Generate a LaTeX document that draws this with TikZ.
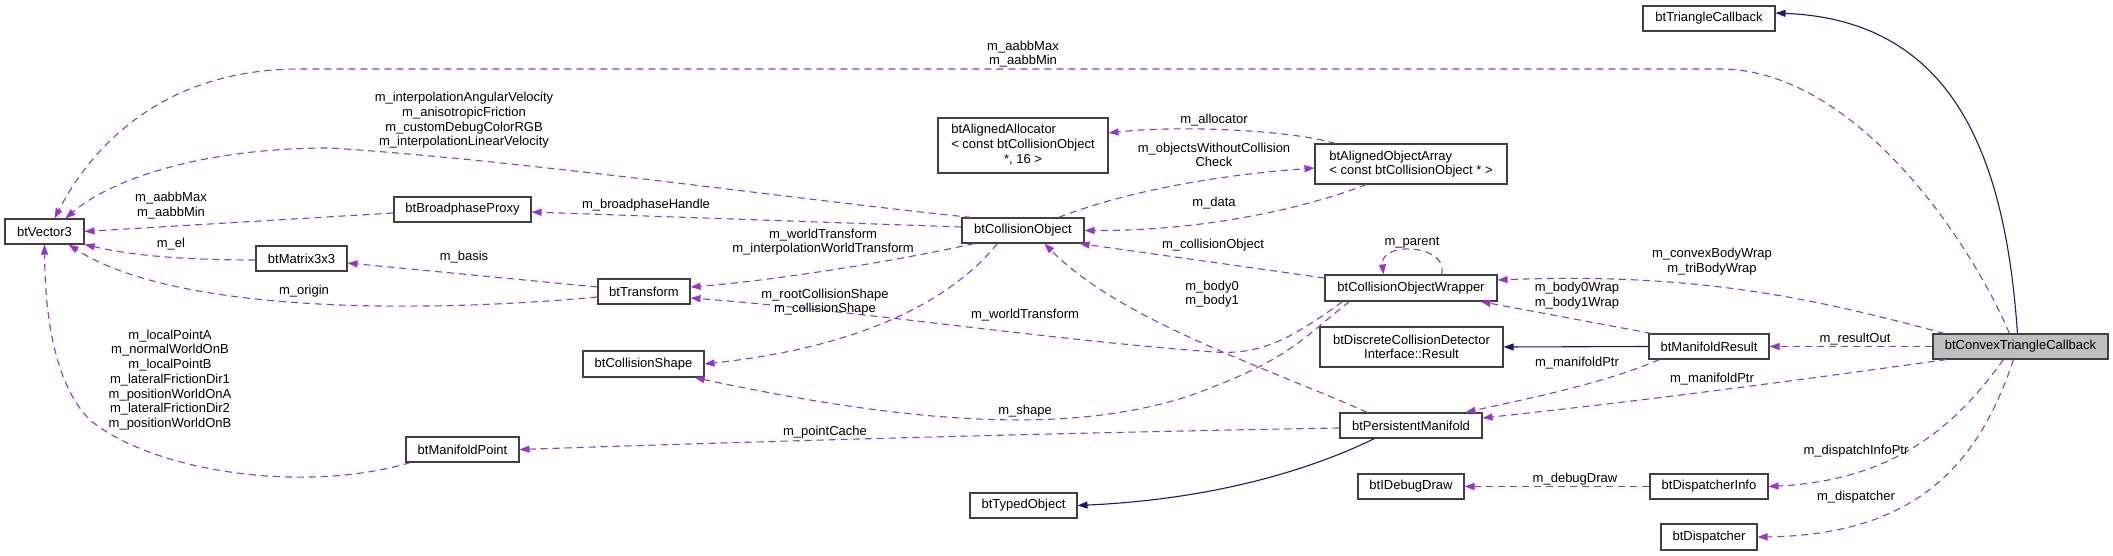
\documentclass[tikz,border=0pt]{standalone}
\usepackage{fontspec}
\setmainfont{Liberation Sans}
\usetikzlibrary{arrows.meta}
\definecolor{edgepurple}{HTML}{9A32CD}
\definecolor{inhblue}{HTML}{191970}
\definecolor{boxline}{HTML}{404040}
\definecolor{mainfill}{HTML}{BFBFBF}
\begin{document}
\begin{tikzpicture}[x=1pt,y=-1pt,
  font=\fontsize{13}{14.7}\selectfont,
  cls/.style={draw=boxline, line width=1.1pt, fill=white, inner sep=0pt, align=center},
  lbl/.style={inner sep=0pt, align=center},
  member/.style={draw=edgepurple, line width=1.1pt, dash pattern=on 7pt off 5pt,
    -{Triangle[length=10pt,width=7pt]}},
  inherit/.style={draw=inhblue, line width=1.1pt, -{Triangle[length=10pt,width=7pt]}}]
\useasboundingbox (0,0) rectangle (2113,556);

% ---------- classes ----------
\node[cls, minimum width=79pt, minimum height=25pt] (vec) at (44.5,231.5) {btVector3};
\node[cls, minimum width=137pt, minimum height=25pt] (bpp) at (462.5,209.5) {btBroadphaseProxy};
\node[cls, minimum width=91pt, minimum height=25pt] (m33) at (301.5,258.5) {btMatrix3x3};
\node[cls, minimum width=92pt, minimum height=25pt] (tr) at (644,291.5) {btTransform};
\node[cls, minimum width=121pt, minimum height=26pt] (cs) at (643.5,364) {btCollisionShape};
\node[cls, minimum width=113pt, minimum height=25pt] (mp) at (462.5,449.5) {btManifoldPoint};
\node[cls, minimum width=170pt, minimum height=55pt] (alloc) at (1023,145.5)
  {\begin{tabular}{@{}l@{}}btAlignedAllocator\\< const btCollisionObject\\\multicolumn{1}{@{}c@{}}{*, 16 >}\end{tabular}};
\node[cls, minimum width=192pt, minimum height=40pt, align=left] (aoa) at (1411,164)
  {btAlignedObjectArray\\< const btCollisionObject * >};
\node[cls, minimum width=122pt, minimum height=25pt] (co) at (1023,230.5) {btCollisionObject};
\node[cls, minimum width=172pt, minimum height=26pt] (cow) at (1411,288) {btCollisionObjectWrapper};
\node[cls, minimum width=183pt, minimum height=40pt] (dcd) at (1411.5,347)
  {btDiscreteCollisionDetector\\Interface::Result};
\node[cls, minimum width=120pt, minimum height=25pt] (mr) at (1709,346.5) {btManifoldResult};
\node[cls, fill=mainfill, minimum width=175pt, minimum height=25pt] (ctc) at (2020.5,346.5) {btConvexTriangleCallback};
\node[cls, minimum width=132pt, minimum height=25pt] (tc) at (1709,18.5) {btTriangleCallback};
\node[cls, minimum width=142pt, minimum height=25pt] (pm) at (1411,425.5) {btPersistentManifold};
\node[cls, minimum width=107pt, minimum height=25pt] (to) at (1023.5,505.5) {btTypedObject};
\node[cls, minimum width=106pt, minimum height=25pt] (dd) at (1411,486.5) {btIDebugDraw};
\node[cls, minimum width=118pt, minimum height=25pt] (di) at (1709,486.5) {btDispatcherInfo};
\node[cls, minimum width=96pt, minimum height=26pt] (disp) at (1709,537) {btDispatcher};

% ---------- member connectors ----------
\draw[member] ([xshift=77pt]ctc.north west) .. controls (1965,230) and (1850,69) .. (1720,69)
  -- (300,69) .. controls (160,69) and (90,150) .. ([xshift=50pt]vec.north west);
\draw[member] ([xshift=10pt]co.north west) .. controls (800,200) and (520,160) .. (330,148)
  .. controls (200,148) and (110,180) .. ([xshift=61pt]vec.north west);
\draw[member] ([yshift=-3.5pt]bpp.west) -- (vec.east);
\draw[member] ([yshift=-1.5pt]m33.west) .. controls (180,260) and (130,255) .. (vec.south east);
\draw[member] ([yshift=-5.5pt]tr.west) .. controls (400,315) and (170,310) .. ([xshift=-16pt]vec.south east);
\draw[member] ([xshift=5pt]mp.south west) .. controls (300,495) and (150,470) .. (90,420)
  .. controls (50,380) and (45,300) .. ([xshift=40pt]vec.south west);
\draw[member] ([yshift=4.5pt]tr.west) -- ([yshift=-4.5pt]m33.east);
\draw[member] ([yshift=3.5pt]co.west) -- ([yshift=-2.5pt]bpp.east);
\draw[member] ([xshift=13pt]co.south west) .. controls (900,260) and (780,280) .. ([yshift=4.5pt]tr.east);
\draw[member] ([xshift=36pt]co.south west) .. controls (960,290) and (880,345) .. (cs.east);
\draw[member] ([xshift=18pt]cow.south west) .. controls (1290,340) and (1260,355) .. (1214,352)
  .. controls (1050,340) and (850,310) .. ([yshift=-6.5pt]tr.east);
\draw[member] ([xshift=25pt]cow.south west) .. controls (1300,340) and (1290,360) .. (1186,397)
  .. controls (1080,430) and (940,430) .. ([xshift=-10pt]cs.south east);
\draw[member] ([yshift=-2.5pt]pm.west) .. controls (1100,432) and (800,440) .. (mp.east);
\draw[member] ([xshift=28pt]pm.north west) .. controls (1260,365) and (1120,320) .. ([xshift=83pt]co.south west);
\draw[member] ([yshift=10pt]cow.west) -- ([xshift=-5pt]co.south east);
\draw[member] ([xshift=117pt]cow.north west) .. controls (1450,245) and (1380,240) .. ([xshift=59pt]cow.north west);
\draw[member] ([xshift=97pt]co.north west) .. controls (1130,190) and (1220,175) .. ([yshift=-4pt]aoa.west);
\draw[member] ([xshift=52pt]aoa.south west) .. controls (1300,210) and (1200,231) .. (co.east);
\draw[member] ([xshift=21pt]aoa.north west) .. controls (1290,130) and (1180,125) .. ([yshift=12.5pt]alloc.east);
\draw[member] ([xshift=12pt]ctc.north west) .. controls (1820,300) and (1700,272) .. ([yshift=8pt]cow.east);
\draw[member] ([xshift=3pt]mr.north west) -- ([xshift=-17pt]cow.south east);
\draw[member] ([xshift=11pt]mr.south west) .. controls (1600,385) and (1520,400) .. ([xshift=-17pt]pm.north east);
\draw[member] (ctc.west) -- (mr.east);
\draw[member] ([xshift=14pt]ctc.south west) .. controls (1800,380) and (1650,400) .. ([yshift=7.5pt]pm.east);
\draw[member] ([xshift=71pt]ctc.south west) .. controls (1960,420) and (1900,480) .. (di.east);
\draw[member] ([xshift=81pt]ctc.south west) .. controls (1980,460) and (1920,535) .. (disp.east);
\draw[member] (di.west) -- (dd.east);

% ---------- inheritance ----------
\draw[inherit] ([xshift=85pt]ctc.north west) .. controls (2005,150) and (1950,20) .. ([yshift=5.5pt]tc.east);
\draw[inherit] (mr.west) -- (dcd.east);
\draw[inherit] ([xshift=35pt]pm.south west) .. controls (1300,475) and (1200,500) .. (to.east);

% ---------- labels ----------
\node[lbl] (lA) at (1023,54) {m\_aabbMax\\m\_aabbMin};
\node[lbl] (lB) at (464,120.5) {m\_interpolationAngularVelocity\\m\_anisotropicFriction\\m\_customDebugColorRGB\\m\_interpolationLinearVelocity};
\node[lbl] (lC) at (171,205.5) {m\_aabbMax\\m\_aabbMin};
\node[lbl] (lD) at (171,244) {m\_el};
\node[lbl] (lE) at (464,257) {m\_basis};
\node[lbl] (lF) at (304,291) {m\_origin};
\node[lbl] (lG) at (170,380) {m\_localPointA\\m\_normalWorldOnB\\m\_localPointB\\m\_lateralFrictionDir1\\m\_positionWorldOnA\\m\_lateralFrictionDir2\\m\_positionWorldOnB};
\node[lbl] (lH) at (646,205) {m\_broadphaseHandle};
\node[lbl] (lI) at (823,242) {m\_worldTransform\\m\_interpolationWorldTransform};
\node[lbl] (lJ) at (825,302) {m\_rootCollisionShape\\m\_collisionShape};
\node[lbl] (lK) at (1214,120) {m\_allocator};
\node[lbl] (lL) at (1214,155) {m\_objectsWithoutCollision\\Check};
\node[lbl] (lM) at (1214,203) {m\_data};
\node[lbl] (lN) at (1213,245) {m\_collisionObject};
\node[lbl] (lO) at (1412,243) {m\_parent};
\node[lbl] (lP) at (1212,294) {m\_body0\\m\_body1};
\node[lbl] (lQ) at (1025,315) {m\_worldTransform};
\node[lbl] (lR) at (1025,411) {m\_shape};
\node[lbl] (lS) at (825,432) {m\_pointCache};
\node[lbl] (lT) at (1712,261.5) {m\_convexBodyWrap\\m\_triBodyWrap};
\node[lbl] (lU) at (1577,295.5) {m\_body0Wrap\\m\_body1Wrap};
\node[lbl] (lV) at (1577,363) {m\_manifoldPtr};
\node[lbl] (lW) at (1712,379) {m\_manifoldPtr};
\node[lbl] (lX) at (1855,339) {m\_resultOut};
\node[lbl] (lY) at (1856,451) {m\_dispatchInfoPtr};
\node[lbl] (lZ) at (1856,497) {m\_dispatcher};
\node[lbl] (la) at (1575,479) {m\_debugDraw};
\end{tikzpicture}
\end{document}
